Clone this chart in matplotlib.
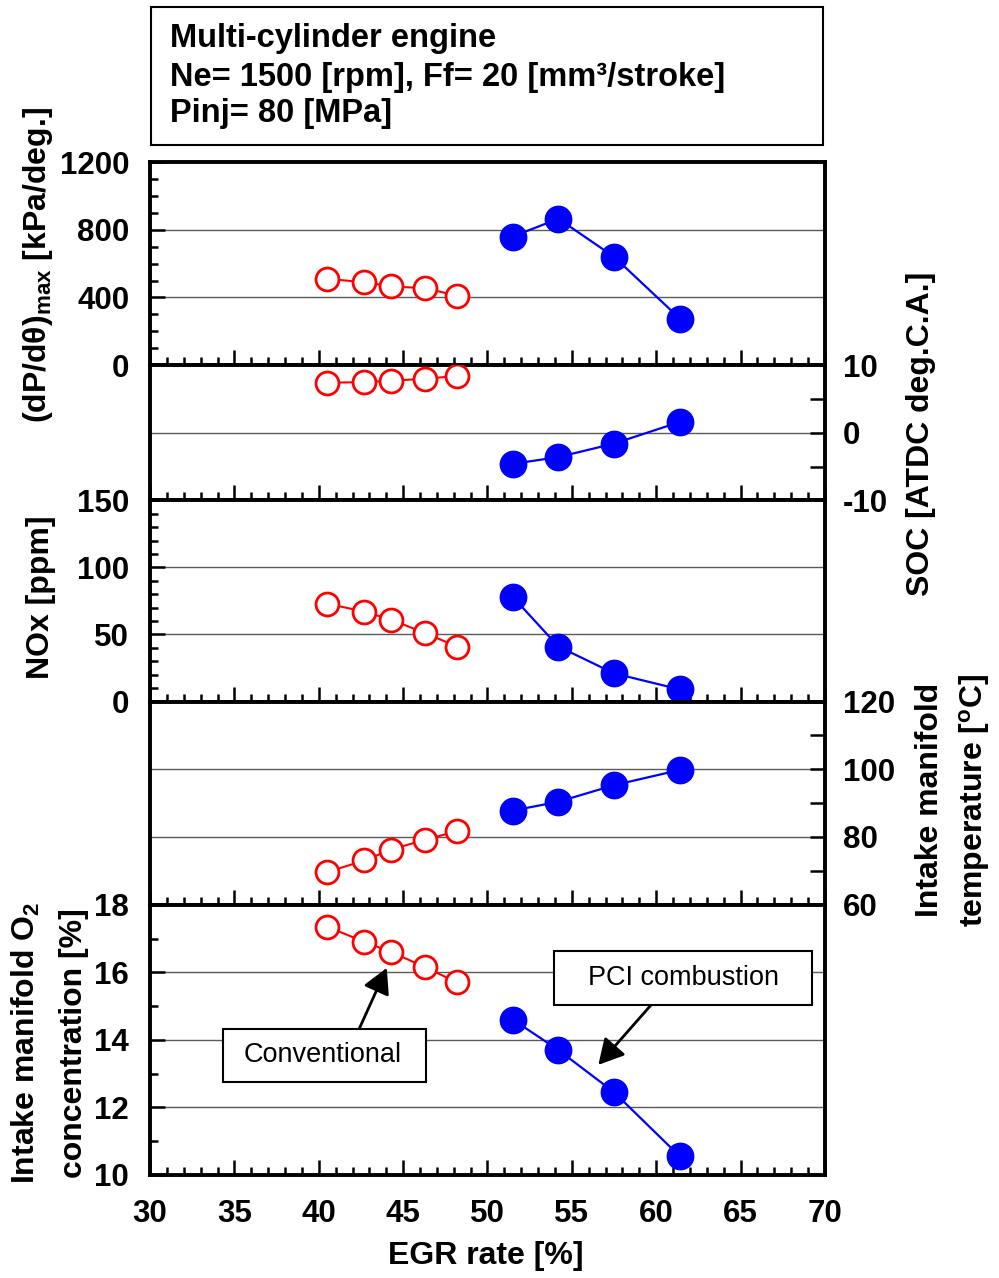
import matplotlib
matplotlib.use("Agg")
import matplotlib.pyplot as plt
from matplotlib.patches import Rectangle
from matplotlib.ticker import MultipleLocator

plt.rcParams['font.family'] = ['Liberation Sans', 'DejaVu Sans']
plt.rcParams['font.weight'] = 'bold'
plt.rcParams['axes.unicode_minus'] = False
plt.rcParams['mathtext.fontset'] = 'custom'
plt.rcParams['mathtext.rm'] = 'Liberation Sans:bold'
plt.rcParams['mathtext.bf'] = 'Liberation Sans:bold'
plt.rcParams['mathtext.it'] = 'Liberation Sans:bold:italic'

# EGR rate [%] for each operating point
egr_conv = [40.5, 42.7, 44.3, 46.3, 48.2]
egr_pci = [51.5, 54.2, 57.5, 61.4]

# (dP/dtheta)max [kPa/deg.]
dpdt_conv = [510, 490, 465, 455, 410]
dpdt_pci = [760, 865, 640, 275]

# start of combustion [ATDC deg.C.A.]
soc_conv = [7.4, 7.5, 7.7, 8.0, 8.4]
soc_pci = [-4.6, -3.6, -1.6, 1.6]

# NOx [ppm]
nox_conv = [73, 67, 61, 51, 41]
nox_pci = [78, 41, 21, 9]

# intake manifold temperature [oC]
temp_conv = [69.6, 73.1, 76.3, 79.2, 81.7]
temp_pci = [87.8, 90.4, 95.3, 99.8]

# intake manifold O2 concentration [%]
o2_conv = [17.35, 16.9, 16.6, 16.15, 15.7]
o2_pci = [14.6, 13.7, 12.45, 10.55]

x_ticks = [30, 35, 40, 45, 50, 55, 60, 65, 70]

W, H = 999, 1278
fig, axes = plt.subplots(5, 1, figsize=(W / 100, H / 100), dpi=100, sharex=True,
                         gridspec_kw=dict(height_ratios=[203, 135, 201, 203, 270], hspace=0))
fig.subplots_adjust(left=150 / W, right=825 / W, top=1 - 162 / H, bottom=1 - 1175 / H)

panels = [
    (dpdt_conv, dpdt_pci, (0, 1200), 400, 100, 'left'),
    (soc_conv, soc_pci, (-10, 10), 10, 5, 'right'),
    (nox_conv, nox_pci, (0, 150), 50, 10, 'left'),
    (temp_conv, temp_pci, (60, 120), 20, 10, 'right'),
    (o2_conv, o2_pci, (10, 18), 2, 1, 'left'),
]

TICK_FS = 22.5
MAJ, MIN = 10.5, 6
for ax, (yc, yp, ylim, major, minor, side) in zip(axes, panels):
    ax.plot(egr_conv, yc, '-o', color='red', lw=1.5, ms=16.5, mfc='white', mec='red', mew=2.0, zorder=5)
    ax.plot(egr_pci, yp, '-o', color='blue', lw=1.6, ms=19, mfc='blue', mec='blue', zorder=5)

    ax.set_ylim(*ylim)
    ax.yaxis.set_major_locator(MultipleLocator(major))
    ax.yaxis.set_minor_locator(MultipleLocator(minor))
    ax.grid(axis='y', which='major', color='#5a5a5a', lw=1.0, zorder=0)

    for sp in ax.spines.values():
        sp.set_linewidth(2.8)

    if side == 'right':
        ax.yaxis.tick_right()
        ax.tick_params(axis='y', which='both', direction='in', length=MAJ, width=1.8,
                       left=False, right=True, labelsize=TICK_FS, pad=13)
    else:
        ax.tick_params(axis='y', which='major', direction='in', length=MAJ, width=1.8,
                       right=False, labelsize=TICK_FS, pad=15)
        ax.tick_params(axis='y', which='minor', direction='in', length=MIN, width=1.8, right=False)

    ax.tick_params(axis='x', which='major', direction='in', length=MAJ, width=1.8,
                   top=False, labelsize=TICK_FS, pad=17)
    ax.tick_params(axis='x', which='minor', direction='in', length=MIN, width=1.8, top=False)

ax = axes[-1]
ax.set_xlim(30, 70)
ax.set_xticks(x_ticks)
ax.xaxis.set_minor_locator(MultipleLocator(1))

# annotation boxes and arrows in the O2 panel
arrow = dict(arrowstyle='-|>,head_length=0.55,head_width=0.3', color='black', lw=2.0,
             mutation_scale=28, shrinkA=0, shrinkB=0)

ax.add_patch(Rectangle((34.33, 12.76), 46.36 - 34.33, 14.33 - 12.76, facecolor='white',
                       edgecolor='black', lw=1.5, zorder=3))
ax.text(40.25, 13.54, 'Conventional', ha='center', va='center', fontsize=19.5,
        fontweight='normal', zorder=4)
ax.annotate('', xy=(44.03, 16.13), xytext=(42.4, 14.33), arrowprops=arrow, zorder=4)

ax.add_patch(Rectangle((53.94, 15.02), 69.25 - 53.94, 16.62 - 15.02, facecolor='white',
                       edgecolor='black', lw=1.5, zorder=3))
ax.text(61.6, 15.82, 'PCI combustion', ha='center', va='center', fontsize=19.5,
        fontweight='normal', zorder=4)
ax.annotate('', xy=(56.57, 13.26), xytext=(59.67, 15.02), arrowprops=arrow, zorder=4)


def px(x, y):
    return x / W, 1 - y / H


LABEL_FS = 23
fig.text(*px(38, 265), '(dP/dθ)$_{\\mathrm{max}}$ [kPa/deg.]', rotation=90,
         ha='center', va='center', fontsize=LABEL_FS)
fig.text(*px(41, 597), 'NOx [ppm]', rotation=90, ha='center', va='center', fontsize=LABEL_FS)
fig.text(*px(26, 1043), r'Intake manifold O$_2$', rotation=90, ha='center', va='center',
         fontsize=LABEL_FS)
fig.text(*px(74, 1043), 'concentration [%]', rotation=90, ha='center', va='center',
         fontsize=LABEL_FS)
fig.text(*px(921, 434), 'SOC [ATDC deg.C.A.]', rotation=90, ha='center', va='center',
         fontsize=LABEL_FS)
fig.text(*px(930, 800), 'Intake manifold', rotation=90, ha='center', va='center',
         fontsize=LABEL_FS)
fig.text(*px(974, 800), r'temperature [$^{\mathrm{o}}$C]', rotation=90, ha='center',
         va='center', fontsize=LABEL_FS)
fig.text(*px(486, 1256), 'EGR rate [%]', ha='center', va='center', fontsize=LABEL_FS)

# condition box above the panels
fig.patches.append(Rectangle(px(151, 145), (823 - 151) / W, (145 - 7) / H,
                             transform=fig.transFigure, facecolor='white',
                             edgecolor='black', lw=1.5))
TITLE_FS = 23.5
fig.text(*px(170, 47), 'Multi-cylinder engine', ha='left', va='baseline', fontsize=TITLE_FS)
fig.text(*px(170, 86), 'Ne= 1500 [rpm], Ff= 20 [mm³/stroke]', ha='left', va='baseline',
         fontsize=TITLE_FS)
fig.text(*px(170, 122), 'Pinj= 80 [MPa]', ha='left', va='baseline', fontsize=TITLE_FS)

fig.savefig('out.png', dpi=100)
